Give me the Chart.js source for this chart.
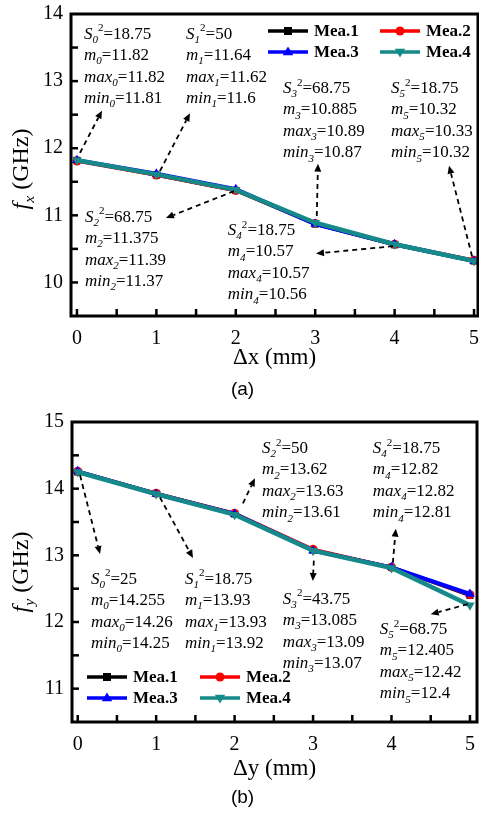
<!DOCTYPE html>
<html><head><meta charset="utf-8">
<script src="https://cdn.jsdelivr.net/npm/chart.js@4/dist/chart.umd.min.js"></script>
<style>
html,body{margin:0;padding:0;background:#fff;}
#wrap{position:relative;width:479px;height:816px;overflow:hidden;background:#fff;}
canvas{position:absolute;left:0;}
</style></head><body>
<div id="wrap">
<canvas id="c1" width="479" height="400" style="top:0px;width:479px;height:400px"></canvas>
<canvas id="c2" width="479" height="416" style="top:400px;width:479px;height:416px"></canvas>
</div>
<script>
const SERIF = '"Liberation Serif","Times New Roman",Times,serif';
const SANS = '"Liberation Sans",Arial,Helvetica,sans-serif';

// ---------- data ----------
const dxValues = [0, 1, 2, 3, 4, 5];
const dyValues = [0, 1, 2, 3, 4, 5];
const seriesNames = ['Mea.1', 'Mea.2', 'Mea.3', 'Mea.4'];

const fxMea1 = [11.82, 11.60, 11.37, 10.87, 10.56, 10.32];
const fxMea2 = [11.81, 11.60, 11.37, 10.88, 10.57, 10.33];
const fxMea3 = [11.82, 11.62, 11.39, 10.87, 10.57, 10.32];
const fxMea4 = [11.82, 11.61, 11.38, 10.89, 10.57, 10.32];

const fyMea1 = [14.25, 13.93, 13.62, 13.08, 12.82, 12.40];
const fyMea2 = [14.26, 13.93, 13.63, 13.09, 12.82, 12.41];
const fyMea3 = [14.26, 13.92, 13.62, 13.07, 12.82, 12.42];
const fyMea4 = [14.25, 13.92, 13.61, 13.07, 12.81, 12.25];

const fxS2   = [18.75, 50, 68.75, 68.75, 18.75, 18.75];
const fxMean = [11.82, 11.64, 11.375, 10.885, 10.57, 10.32];
const fxMax  = [11.82, 11.62, 11.39, 10.89, 10.57, 10.33];
const fxMin  = [11.81, 11.6, 11.37, 10.87, 10.56, 10.32];

const fyS2   = [25, 18.75, 50, 43.75, 18.75, 68.75];
const fyMean = [14.255, 13.93, 13.62, 13.085, 12.82, 12.405];
const fyMax  = [14.26, 13.93, 13.63, 13.09, 12.82, 12.42];
const fyMin  = [14.25, 13.92, 13.61, 13.07, 12.81, 12.4];

const xTickLabels  = ['0', '1', '2', '3', '4', '5'];
const fxTickLabels = ['10', '11', '12', '13', '14'];
const fyTickLabels = ['11', '12', '13', '14', '15'];

// ---------- styles / layout ----------
const seriesStyle = [
  { color: '#000000', point: 'rect',     rot: 0,   width: 3.5, radius: 5 },
  { color: '#ff0000', point: 'circle',   rot: 0,   width: 3.5, radius: 4.5 },
  { color: '#0000ff', point: 'triangle', rot: 0,   width: 4,   radius: 5.5 },
  { color: '#168a8a', point: 'triangle', rot: 180, width: 4.5, radius: 5.5 }
];

// note layout: [textX, textY(first line centre), arrowFromX, arrowFromY, arrowToX, arrowToY] in data units
const fxNotePos = [
  [0.088, 13.715, 0.038, 11.93, 0.315, 12.56],
  [1.373, 13.715, 1.045, 11.66, 1.423, 12.52],
  [0.10, 10.99, 1.977, 11.36, 1.121, 10.96],
  [2.594, 12.906, 3.02, 10.99, 3.035, 11.77],
  [1.90, 10.79, 3.98, 10.54, 3.01, 10.43],
  [3.955, 12.906, 4.975, 10.39, 4.685, 11.74]
];
const fyNotePos = [
  [0.169, 12.66, 0.03, 14.2, 0.284, 13.02],
  [1.367, 12.66, 1.048, 13.87, 1.469, 12.96],
  [2.348, 14.62, 2.106, 13.78, 2.259, 14.155],
  [2.615, 12.36, 3.01, 12.92, 2.997, 12.615],
  [3.762, 14.62, 4.017, 12.887, 4.055, 13.4],
  [3.851, 11.906, 4.972, 12.268, 4.5, 12.117]
];

function drawRich(ctx, x, base, segs, size) {
  ctx.textAlign = 'left';
  ctx.textBaseline = 'alphabetic';
  for (const [t, it, pos] of segs) {
    const fs = pos ? size * 0.65 : size;
    ctx.font = (it ? 'italic ' : '') + fs + 'px ' + SERIF;
    const dy = pos === -1 ? size * 0.25 : pos === 1 ? -size * 0.42 : 0;
    ctx.fillText(t, x, base + dy);
    x += ctx.measureText(t).width;
  }
  return x;
}
function richWidth(ctx, segs, size) {
  let w = 0;
  for (const [t, it, pos] of segs) {
    const fs = pos ? size * 0.65 : size;
    ctx.font = (it ? 'italic ' : '') + fs + 'px ' + SERIF;
    w += ctx.measureText(t).width;
  }
  return w;
}
function arrow(ctx, x0, y0, x1, y1) {
  const ang = Math.atan2(y1 - y0, x1 - x0), L = 8, W = 3.5;
  const bx = x1 - L * Math.cos(ang), by = y1 - L * Math.sin(ang);
  ctx.strokeStyle = '#000'; ctx.fillStyle = '#000';
  ctx.lineWidth = 1.8; ctx.setLineDash([5, 4]);
  ctx.beginPath(); ctx.moveTo(x0, y0); ctx.lineTo(bx, by); ctx.stroke();
  ctx.setLineDash([]);
  ctx.beginPath(); ctx.moveTo(x1, y1);
  ctx.lineTo(bx - W * Math.sin(ang), by + W * Math.cos(ang));
  ctx.lineTo(bx + W * Math.sin(ang), by - W * Math.cos(ang));
  ctx.closePath(); ctx.fill();
}
function marker(ctx, st, x, y) {
  ctx.fillStyle = st.color;
  const r = st.radius;
  ctx.beginPath();
  if (st.point === 'rect') {
    const s = r * 0.8; ctx.rect(x - s, y - s, 2 * s, 2 * s);
  } else if (st.point === 'circle') {
    ctx.arc(x, y, r, 0, Math.PI * 2);
  } else {
    const d = st.rot ? -1 : 1;
    ctx.moveTo(x, y - d * r);
    ctx.lineTo(x - r * 0.95, y + d * r * 0.6);
    ctx.lineTo(x + r * 0.95, y + d * r * 0.6);
    ctx.closePath();
  }
  ctx.fill();
}
function halfSteps(labels) {
  const lo = Number(labels[0]), hi = Number(labels[labels.length - 1]);
  const out = [];
  for (let k = Math.round(lo * 2) - 1; k <= Math.round(hi * 2) + 1; k++) out.push({ value: k / 2 });
  return out;
}

function makeChart(id, cfg) {
  const datasets = cfg.series.map((vals, i) => ({
    label: seriesNames[i],
    data: cfg.xs.map((x, k) => ({ x: x, y: vals[k] })),
    borderColor: seriesStyle[i].color,
    backgroundColor: seriesStyle[i].color,
    borderWidth: seriesStyle[i].width,
    pointStyle: seriesStyle[i].point,
    pointRotation: seriesStyle[i].rot,
    pointRadius: seriesStyle[i].radius,
    pointBorderWidth: 0,
    tension: 0,
    order: 3 - i
  }));
  const deco = {
    id: 'deco',
    afterDraw(chart) {
      const ctx = chart.ctx, a = chart.chartArea, xs = chart.scales.x, ys = chart.scales.y;
      ctx.save();
      // ticks (inward)
      ctx.strokeStyle = '#000'; ctx.lineWidth = 2.5;
      const tl = 7;
      xs.ticks.forEach(t => {
        const p = xs.getPixelForValue(t.value);
        if (p < a.left + 2 || p > a.right - 2) return;
        ctx.beginPath(); ctx.moveTo(p, a.bottom); ctx.lineTo(p, a.bottom - tl); ctx.stroke();
      });
      ys.ticks.forEach(t => {
        const p = ys.getPixelForValue(t.value);
        if (p < a.top + 2 || p > a.bottom - 2) return;
        ctx.beginPath(); ctx.moveTo(a.left, p); ctx.lineTo(a.left + tl, p); ctx.stroke();
      });
      // frame
      ctx.lineWidth = 3;
      ctx.strokeRect(a.left, a.top, a.right - a.left, a.bottom - a.top);
      // notes
      ctx.fillStyle = '#000';
      cfg.notes.forEach((p, i) => {
        const tx = xs.getPixelForValue(p[0]), ty = ys.getPixelForValue(p[1]);
        const n = String(i);
        const lines = [
          [['S', 1, 0], [n, 1, -1], ['2', 0, 1], ['=' + cfg.S2[i], 0, 0]],
          [['m', 1, 0], [n, 1, -1], ['=' + cfg.mean[i], 0, 0]],
          [['max', 1, 0], [n, 1, -1], ['=' + cfg.max[i], 0, 0]],
          [['min', 1, 0], [n, 1, -1], ['=' + cfg.min[i], 0, 0]]
        ];
        ctx.fillStyle = '#000';
        lines.forEach((segs, k) => drawRich(ctx, tx, ty + k * 21.5 + 5.5, segs, 17));
        arrow(ctx, xs.getPixelForValue(p[2]), ys.getPixelForValue(p[3]),
                   xs.getPixelForValue(p[4]), ys.getPixelForValue(p[5]));
      });
      // legend
      seriesNames.forEach((name, i) => {
        const st = seriesStyle[i];
        const x0 = a.left + cfg.legend.cols[i % 2];
        const y0 = a.top + cfg.legend.rows[Math.floor(i / 2)];
        ctx.strokeStyle = st.color; ctx.lineWidth = 3.5;
        ctx.beginPath(); ctx.moveTo(x0, y0); ctx.lineTo(x0 + 40, y0); ctx.stroke();
        marker(ctx, st, x0 + 20, y0);
        ctx.fillStyle = '#000';
        ctx.font = 'bold 17px ' + SERIF;
        ctx.textAlign = 'left'; ctx.textBaseline = 'middle';
        ctx.fillText(name, x0 + 46, y0 + 1);
      });
      // x title
      ctx.fillStyle = '#000';
      ctx.font = '23px ' + SERIF;
      ctx.textAlign = 'center'; ctx.textBaseline = 'middle';
      ctx.fillText(cfg.xTitle, (a.left + a.right) / 2, cfg.xTitleY);
      // panel tag
      ctx.font = '19px ' + SANS;
      ctx.fillText(cfg.tag, (a.left + a.right) / 2 - 32, cfg.tagY);
      // y title (rotated)
      const ysegs = [['f', 1, 0], [cfg.ySub, 1, -1], [' (GHz)', 0, 0]];
      const w = richWidth(ctx, ysegs, 24);
      ctx.translate(cfg.yTitleX, (a.top + a.bottom) / 2 + cfg.yTitleDy);
      ctx.rotate(-Math.PI / 2);
      drawRich(ctx, -w / 2, 7, ysegs, 24);
      ctx.restore();
    }
  };
  return new Chart(document.getElementById(id), {
    type: 'line',
    data: { datasets },
    options: {
      responsive: false, animation: false, devicePixelRatio: 1,
      layout: { padding: cfg.pad, autoPadding: false },
      plugins: { legend: { display: false }, tooltip: { enabled: false } },
      scales: {
        x: {
          type: 'linear', min: cfg.xMin, max: cfg.xMax,
          afterBuildTicks(s) { s.ticks = halfSteps(xTickLabels).filter(t => t.value >= 0 && t.value <= 5); },
          afterFit(s) { s.height = cfg.xH; s.paddingLeft = 0; s.paddingRight = 0; },
          grid: { display: false, drawTicks: false }, border: { display: false },
          ticks: {
            autoSkip: false, maxRotation: 0, minRotation: 0, padding: 11, color: '#000',
            font: { family: SERIF, size: 20 },
            callback: v => xTickLabels.includes(String(v)) ? String(v) : ''
          }
        },
        y: {
          type: 'linear', min: cfg.yMin, max: cfg.yMax,
          afterBuildTicks(s) { s.ticks = halfSteps(cfg.yLabels).filter(t => t.value >= cfg.yMin && t.value <= cfg.yMax); },
          afterFit(s) { s.width = cfg.yW; s.paddingTop = 0; s.paddingBottom = 0; },
          grid: { display: false, drawTicks: false }, border: { display: false },
          ticks: {
            autoSkip: false, padding: 8, color: '#000',
            font: { family: SERIF, size: 20 },
            callback: v => cfg.yLabels.includes(String(v)) ? String(v) : ''
          }
        }
      }
    },
    plugins: [deco]
  });
}

makeChart('c1', {
  xs: dxValues, series: [fxMea1, fxMea2, fxMea3, fxMea4],
  S2: fxS2, mean: fxMean, max: fxMax, min: fxMin, notes: fxNotePos,
  xMin: -0.075, xMax: 5.05, yMin: 9.5, yMax: 14, yLabels: fxTickLabels,
  pad: { left: 0, top: 14, right: 1, bottom: 0 }, xH: 84, yW: 71,
  legend: { cols: [197, 309], rows: [17, 38] },
  xTitle: '\u0394x (mm)', xTitleY: 358, tag: '(a)', tagY: 390, yTitleX: 21, yTitleDy: 4, ySub: 'x'
});
makeChart('c2', {
  xs: dyValues, series: [fyMea1, fyMea2, fyMea3, fyMea4],
  S2: fyS2, mean: fyMean, max: fyMax, min: fyMin, notes: fyNotePos,
  xMin: -0.073, xMax: 5.09, yMin: 10.5, yMax: 15, yLabels: fyTickLabels,
  pad: { left: 0, top: 22, right: 2, bottom: 0 }, xH: 94, yW: 72,
  legend: { cols: [15, 128], rows: [255, 276] },
  xTitle: '\u0394y (mm)', xTitleY: 369, tag: '(b)', tagY: 398, yTitleX: 21, yTitleDy: 0, ySub: 'y'
});
</script>
</body></html>
